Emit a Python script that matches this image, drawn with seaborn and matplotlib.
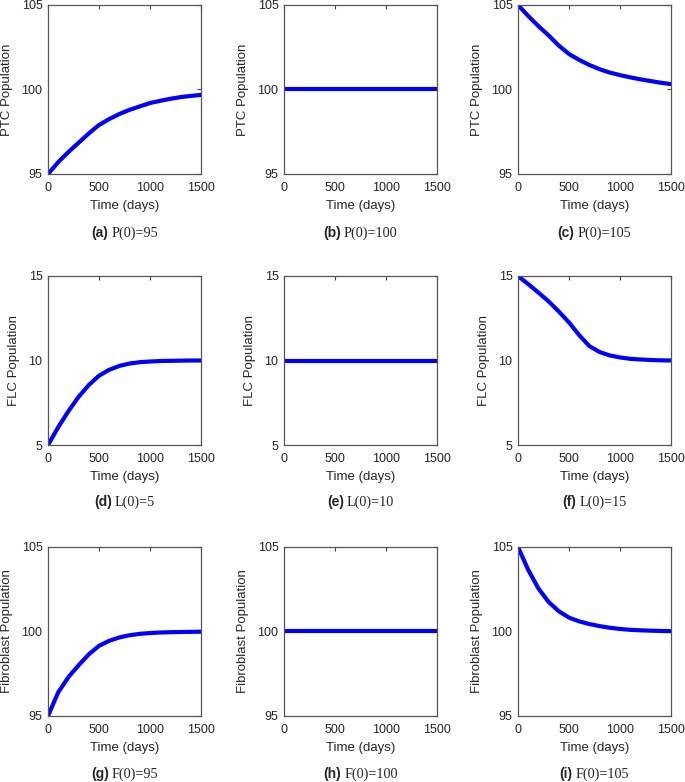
import numpy as np
import pandas as pd
import matplotlib
matplotlib.use("Agg")
import matplotlib.pyplot as plt
import seaborn as sns

# ── data ─────────────────────────────────────────────────────────────────────
time = [0, 100, 200, 300, 400, 500, 600, 700, 800, 900, 1000, 1100, 1200, 1300, 1400, 1500]

ptc_95 = [95, 95.7, 96.3, 96.85, 97.4, 97.9, 98.25, 98.55, 98.8, 99.0, 99.2, 99.33, 99.45, 99.55, 99.62, 99.68]
ptc_100 = [100] * 16
ptc_105 = [105, 104.35, 103.75, 103.2, 102.6, 102.1, 101.75, 101.45, 101.2, 101.0, 100.85, 100.72, 100.6, 100.5, 100.4, 100.32]

flc_5 = [5, 6.05, 7.0, 7.85, 8.55, 9.1, 9.45, 9.68, 9.82, 9.9, 9.94, 9.97, 9.98, 9.99, 10.0, 10.0]
flc_10 = [10] * 16
flc_15 = [15, 14.52, 14.02, 13.5, 12.9, 12.25, 11.5, 10.85, 10.5, 10.3, 10.18, 10.1, 10.06, 10.03, 10.01, 10.0]

fib_95 = [95, 96.4, 97.3, 98.0, 98.65, 99.15, 99.45, 99.65, 99.78, 99.86, 99.91, 99.94, 99.96, 99.97, 99.98, 99.99]
fib_100 = [100] * 16
fib_105 = [105, 103.65, 102.55, 101.75, 101.2, 100.82, 100.6, 100.44, 100.32, 100.22, 100.15, 100.1, 100.07, 100.05, 100.03, 100.02]

panels = [
    (ptc_95,  "PTC Population", [95, 100, 105], "(a)", "P(0)=95"),
    (ptc_100, "PTC Population", [95, 100, 105], "(b)", "P(0)=100"),
    (ptc_105, "PTC Population", [95, 100, 105], "(c)", "P(0)=105"),
    (flc_5,   "FLC Population", [5, 10, 15],    "(d)", "L(0)=5"),
    (flc_10,  "FLC Population", [5, 10, 15],    "(e)", "L(0)=10"),
    (flc_15,  "FLC Population", [5, 10, 15],    "(f)", "L(0)=15"),
    (fib_95,  "Fibroblast Population", [95, 100, 105], "(g)", "F(0)=95"),
    (fib_100, "Fibroblast Population", [95, 100, 105], "(h)", "F(0)=100"),
    (fib_105, "Fibroblast Population", [95, 100, 105], "(i)", "F(0)=105"),
]

# ── style ────────────────────────────────────────────────────────────────────
sns.set_style("white")
plt.rcParams["font.family"] = ["Liberation Sans", "DejaVu Sans"]

W, H = 685, 782
fig = plt.figure(figsize=(W / 100, H / 100), dpi=100)

col_left = [48, 284, 518]
row_top = [5, 276, 547]
cap_y = [233, 502, 774]
aw, ah = 153, 169

renderer = fig.canvas.get_renderer()
for k, (vals, ylab, yt, tag, cap) in enumerate(panels):
    r, c = divmod(k, 3)
    l, t = col_left[c], row_top[r]
    ax = fig.add_axes([l / W, 1 - (t + ah) / H, aw / W, ah / H])
    df = pd.DataFrame({"t": time, "v": vals})
    sns.lineplot(data=df, x="t", y="v", ax=ax, color="#0000ff", linewidth=3.0,
                 solid_joinstyle="round", solid_capstyle="round")
    ax.set_xlim(0, 1500)
    ax.set_ylim(yt[0], yt[-1])
    ax.set_xticks([0, 500, 1000, 1500])
    ax.set_yticks(yt)
    ax.set_xlabel("Time (days)", fontsize=9.5, labelpad=4)
    ax.set_ylabel(ylab, fontsize=9.5, labelpad=6)
    ax.tick_params(direction="in", top=True, right=True, length=3,
                   width=0.8, color="#444444", labelsize=9, pad=6)
    ax.tick_params(axis="y", pad=4)
    for s in ax.spines.values():
        s.set_color("#555555")
        s.set_linewidth(0.9)

    # caption: bold sans tag + serif text, centred under the panel
    cy = 1 - cap_y[r] / H
    t1 = fig.text(0, cy, tag, fontsize=10, fontweight="bold", ha="left", va="center")
    t2 = fig.text(0, cy, cap, fontsize=10.2, ha="left", va="center",
                  family=["Liberation Serif", "DejaVu Serif"])
    w1 = t1.get_window_extent(renderer).width
    w2 = t2.get_window_extent(renderer).width
    gap = 3
    x0 = l + aw / 2 - (w1 + gap + w2) / 2
    t1.set_x(x0 / W)
    t2.set_x((x0 + w1 + gap) / W)

plt.savefig("out.png", dpi=100)
plt.close()
